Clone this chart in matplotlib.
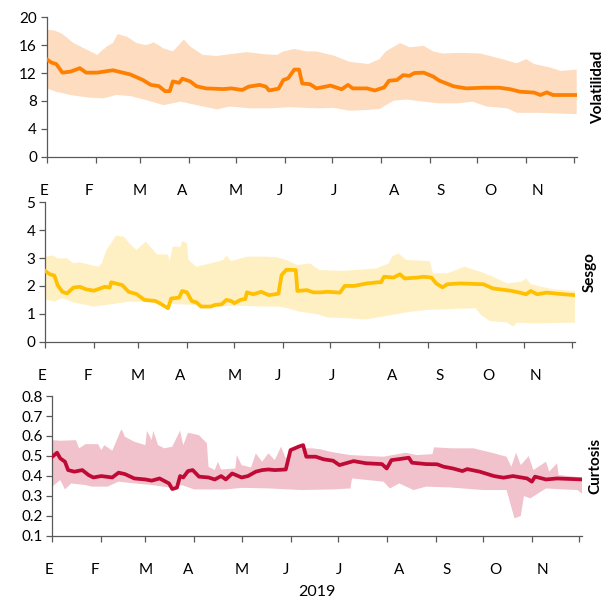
'''
    Momentos de la distribucion 2019: volatilidad, sesgo y curtosis
'''
import numpy as np
import pandas as pd
import matplotlib.pyplot as plt

plt.rcParams['font.family'] = ['Lato', 'DejaVu Sans']

# dias desde 2019-01-01 y valores
vol_mid_d = [0, 3, 6, 10, 15, 21, 25, 32, 42, 53, 61, 66, 71, 75, 78, 80, 84, 86, 91, 95,
             101, 112, 117, 124, 128, 135, 139, 141, 147, 150, 153, 157, 160, 162, 167,
             171, 180, 187, 191, 194, 203, 208, 214, 217, 222, 226, 230, 233, 239, 245,
             249, 258, 266, 277, 287, 294, 300, 309, 313, 317, 321, 336]
vol_mid = [13.97, 13.5, 13.3, 12.06, 12.2, 12.7, 12.06, 12.06, 12.4, 11.8, 11.0, 10.3, 10.14,
           9.4, 9.4, 10.8, 10.6, 11.2, 10.8, 10.1, 9.8, 9.7, 9.8, 9.57, 10.05, 10.3, 10.05,
           9.5, 9.76, 11.0, 11.24, 12.5, 12.5, 10.5, 10.4, 9.8, 10.2, 9.67, 10.3, 9.8, 9.8,
           9.5, 9.95, 10.9, 11.0, 11.7, 11.6, 12.0, 12.06, 11.5, 10.9, 10.1, 9.8, 9.9, 9.9,
           9.67, 9.33, 9.2, 8.85, 9.23, 8.85, 8.85]
vol_up_d = [0, 5, 10, 17, 25, 32, 38, 42, 45, 51, 57, 63, 68, 74, 80, 87, 91, 99, 108, 116,
            127, 138, 146, 150, 157, 165, 171, 182, 192, 204, 211, 215, 224, 230, 239, 245,
            251, 262, 275, 287, 298, 304, 309, 319, 326, 336]
vol_up = [18.2, 18.1, 17.6, 16.3, 15.4, 14.6, 15.8, 16.3, 17.6, 17.2, 16.3, 16.0, 16.4, 15.55,
          15.1, 16.8, 15.8, 14.6, 14.45, 14.7, 15.0, 14.7, 14.6, 15.1, 15.45, 15.1, 15.1, 14.5,
          13.6, 13.3, 14.0, 15.1, 16.3, 15.7, 15.9, 15.1, 14.8, 14.9, 14.8, 14.1, 13.4, 14.0,
          13.3, 12.8, 12.3, 12.5]
vol_lo_d = [0, 6, 15, 27, 36, 44, 53, 63, 74, 85, 95, 108, 116, 129, 142, 154, 165, 172, 182,
            192, 203, 211, 220, 228, 239, 249, 260, 270, 279, 292, 298, 312, 336]
vol_lo = [9.8, 9.33, 8.85, 8.47, 8.37, 8.85, 8.7, 8.13, 7.4, 7.9, 7.4, 6.8, 7.2, 6.94, 6.94,
          7.1, 7.0, 6.94, 7.0, 6.6, 6.7, 6.85, 8.04, 8.2, 7.9, 7.65, 7.65, 7.9, 7.2, 6.94, 6.3,
          6.3, 6.1]

ses_mid_d = [0, 3, 6, 8, 11, 14, 18, 22, 26, 31, 35, 38, 41, 42, 49, 53, 58, 63, 70, 74, 78,
             80, 85, 87, 90, 93, 96, 99, 105, 108, 112, 115, 118, 120, 124, 127, 128, 132, 137,
             142, 148, 150, 153, 159, 160, 166, 170, 175, 179, 187, 190, 196, 204, 211, 213,
             215, 221, 225, 228, 236, 240, 245, 248, 252, 255, 263, 278, 284, 295, 301, 305,
             308, 312, 318, 327, 336]
ses_mid = [2.54, 2.42, 2.37, 2.03, 1.79, 1.73, 1.94, 1.97, 1.88, 1.83, 1.91, 1.97, 1.94, 2.13,
           2.03, 1.79, 1.71, 1.5, 1.46, 1.34, 1.2, 1.55, 1.58, 1.82, 1.77, 1.46, 1.41, 1.26,
           1.26, 1.32, 1.34, 1.5, 1.46, 1.38, 1.5, 1.53, 1.77, 1.7, 1.79, 1.67, 1.72, 2.39,
           2.58, 2.57, 1.82, 1.85, 1.77, 1.77, 1.79, 1.76, 2.0, 2.0, 2.09, 2.13, 2.13, 2.33,
           2.3, 2.42, 2.27, 2.3, 2.33, 2.3, 2.09, 1.95, 2.06, 2.09, 2.06, 1.91, 1.83, 1.76,
           1.7, 1.82, 1.7, 1.76, 1.71, 1.67]
ses_up_d = [0, 5, 8, 14, 18, 22, 29, 34, 36, 39, 45, 50, 54, 58, 64, 71, 78, 79, 81, 86, 87,
            90, 91, 96, 105, 113, 115, 118, 128, 139, 147, 153, 160, 168, 174, 189, 210, 218,
            220, 224, 229, 244, 246, 255, 266, 276, 284, 293, 302, 305, 308, 322, 336]
ses_up = [3.05, 3.09, 2.99, 2.99, 2.81, 2.85, 2.75, 2.69, 2.81, 3.29, 3.8, 3.77, 3.49, 3.29,
          3.59, 3.13, 3.13, 2.87, 3.41, 3.41, 3.61, 3.53, 2.93, 2.69, 2.81, 2.93, 3.09, 2.89,
          3.05, 3.05, 3.03, 2.93, 2.75, 2.81, 2.57, 2.54, 2.63, 2.81, 3.05, 3.17, 2.93, 2.89,
          2.45, 2.45, 2.69, 2.51, 2.33, 2.09, 2.15, 2.27, 2.06, 1.88, 1.82]
ses_lo_d = [0, 6, 11, 18, 31, 43, 54, 71, 84, 96, 109, 122, 139, 148, 154, 161, 173, 179, 191,
            204, 217, 229, 242, 257, 273, 276, 282, 293, 297, 299, 310, 336]
ses_lo = [1.52, 1.44, 1.56, 1.41, 1.26, 1.35, 1.44, 1.41, 1.34, 1.32, 1.26, 1.29, 1.26, 1.26,
          1.2, 1.08, 0.98, 0.87, 0.84, 0.8, 0.93, 1.05, 1.14, 1.17, 1.2, 0.98, 0.74, 0.69,
          0.54, 0.68, 0.66, 0.68]

cur_mid_d = [0, 3, 5, 8, 10, 14, 19, 23, 26, 31, 38, 42, 46, 52, 59, 63, 68, 74, 76, 79, 81,
             83, 86, 89, 93, 99, 103, 107, 110, 114, 120, 124, 129, 133, 137, 141, 148, 151,
             156, 159, 161, 167, 172, 178, 182, 191, 199, 209, 212, 215, 220, 226, 228, 237,
             244, 248, 254, 260, 263, 271, 280, 286, 292, 301, 304, 306, 313, 320, 336]
cur_mid = [0.496, 0.516, 0.488, 0.471, 0.429, 0.421, 0.429, 0.404, 0.392, 0.399, 0.392, 0.416,
           0.409, 0.387, 0.382, 0.376, 0.387, 0.362, 0.334, 0.341, 0.399, 0.392, 0.424, 0.429,
           0.396, 0.392, 0.382, 0.399, 0.382, 0.412, 0.392, 0.399, 0.421, 0.429, 0.432, 0.429,
           0.432, 0.529, 0.546, 0.554, 0.496, 0.496, 0.483, 0.476, 0.454, 0.474, 0.463, 0.459,
           0.437, 0.479, 0.484, 0.491, 0.466, 0.459, 0.458, 0.446, 0.437, 0.424, 0.434, 0.421,
           0.399, 0.391, 0.399, 0.387, 0.371, 0.396, 0.382, 0.387, 0.382]
cur_up_d = [0, 5, 15, 17, 21, 29, 31, 33, 38, 40, 43, 44, 46, 52, 59, 60, 63, 64, 67, 71, 76,
            81, 83, 86, 93, 98, 99, 103, 105, 107, 116, 117, 120, 126, 129, 133, 137, 141, 145,
            148, 153, 165, 170, 176, 189, 210, 224, 231, 241, 242, 253, 267, 280, 288, 291,
            294, 297, 302, 305, 313, 315, 320, 321, 336]
cur_up = [0.579, 0.576, 0.579, 0.538, 0.559, 0.559, 0.529, 0.554, 0.526, 0.563, 0.621, 0.633,
          0.596, 0.571, 0.554, 0.626, 0.579, 0.626, 0.554, 0.538, 0.546, 0.626, 0.554, 0.616,
          0.604, 0.563, 0.446, 0.429, 0.471, 0.432, 0.437, 0.504, 0.454, 0.442, 0.513, 0.471,
          0.513, 0.479, 0.546, 0.488, 0.538, 0.538, 0.533, 0.521, 0.504, 0.496, 0.516, 0.504,
          0.509, 0.543, 0.538, 0.538, 0.513, 0.496, 0.446, 0.516, 0.454, 0.499, 0.429, 0.471,
          0.421, 0.463, 0.404, 0.392]
cur_lo_d = [0, 5, 8, 12, 21, 25, 35, 42, 52, 63, 74, 82, 90, 99, 110, 120, 137, 158, 178, 189,
            190, 210, 214, 220, 229, 237, 252, 273, 288, 293, 297, 299, 303, 313, 324, 333, 336]
cur_lo = [0.346, 0.379, 0.332, 0.362, 0.354, 0.346, 0.346, 0.371, 0.362, 0.354, 0.342, 0.354,
          0.332, 0.332, 0.332, 0.34, 0.337, 0.329, 0.332, 0.337, 0.387, 0.371, 0.337, 0.362,
          0.329, 0.346, 0.342, 0.329, 0.329, 0.187, 0.199, 0.299, 0.287, 0.337, 0.332, 0.329,
          0.309]

mes_etiquetas = ['E', 'F', 'M', 'A', 'M', 'J', 'J', 'A', 'S', 'O', 'N']
mes_fechas = ['2018-12-30', '2019-01-28', '2019-03-01', '2019-03-28', '2019-05-01',
              '2019-05-29', '2019-07-02', '2019-08-09', '2019-09-08', '2019-10-09',
              '2019-11-08']

INICIO = pd.Timestamp('2019-01-01')
FIN = 336


def dias(fechas):
    '''Fechas -> dias desde el 1 de enero'''
    return (pd.to_datetime(fechas) - INICIO).days.values


def panel(ax, mid_d, mid, up_d, up, lo_d, lo, color, relleno, ylim, yticks, fmt,
          titulo, tx):
    '''Dibuja banda + linea central de un momento'''
    xs = np.concatenate([up_d, lo_d[::-1]])
    ys = np.concatenate([up, lo[::-1]])
    ax.fill(xs, ys, color=relleno, lw=0, zorder=1)
    ax.plot(mid_d, mid, color=color, lw=2.7, zorder=3, solid_joinstyle='round')

    ax.set_xlim(0, FIN)
    ax.set_ylim(*ylim)
    ax.set_yticks(yticks)
    ax.set_yticklabels([fmt.format(v) for v in yticks])

    inicio_mes = dias(pd.date_range('2019-01-01', '2019-12-01', freq='MS'))
    ax.set_xticks(inicio_mes)
    ax.set_xticklabels([])
    ax.tick_params(axis='x', which='major', length=4, width=0.9, color='#595959')
    ax.tick_params(axis='y', length=4, width=0.9, color='#595959', labelsize=11, pad=3)

    # etiquetas de meses bajo el eje
    for d, txt in zip(dias(mes_fechas), mes_etiquetas):
        ax.annotate(txt, xy=(d, 0), xycoords=('data', 'axes fraction'),
                    xytext=(0, -20), textcoords='offset points',
                    ha='center', va='top', fontsize=11, annotation_clip=False)

    for lado in ['top', 'right']:
        ax.spines[lado].set_visible(False)
    for lado in ['left', 'bottom']:
        ax.spines[lado].set_color('#595959')
        ax.spines[lado].set_linewidth(0.9)

    ax.text(tx, 0.5, titulo, transform=ax.transAxes, rotation=90, ha='center',
            va='center', fontsize=11, fontweight='bold')


def execute():
    '''Construye la figura completa'''
    fig = plt.figure(figsize=(6.12, 6.02), dpi=100)
    ax1 = fig.add_axes([0.0763, 0.7397, 0.866, 0.2316])
    ax2 = fig.add_axes([0.0735, 0.4324, 0.866, 0.2316])
    ax3 = fig.add_axes([0.0855, 0.1101, 0.866, 0.2320])

    panel(ax1, np.array(vol_mid_d), vol_mid, np.array(vol_up_d), np.array(vol_up),
          np.array(vol_lo_d), np.array(vol_lo), '#FF7F00', '#FDDCC0',
          (0, 20), [0, 4, 8, 12, 16, 20], '{:.0f}', 'Volatilidad', 1.04)
    panel(ax2, np.array(ses_mid_d), ses_mid, np.array(ses_up_d), np.array(ses_up),
          np.array(ses_lo_d), np.array(ses_lo), '#FFC000', '#FFF0C4',
          (0, 5), [0, 1, 2, 3, 4, 5], '{:.0f}', 'Sesgo', 1.028)
    panel(ax3, np.array(cur_mid_d), cur_mid, np.array(cur_up_d), np.array(cur_up),
          np.array(cur_lo_d), np.array(cur_lo), '#C00A36', '#F1C2CC',
          (0.1, 0.8), [0.1, 0.2, 0.3, 0.4, 0.5, 0.6, 0.7, 0.8], '{:.1f}', 'Curtosis', 1.024)
    ax3.text(0.5, -0.40, '2019', transform=ax3.transAxes, ha='center', va='center',
             fontsize=11.5)

    fig.savefig('out.png', dpi=100)


execute()
